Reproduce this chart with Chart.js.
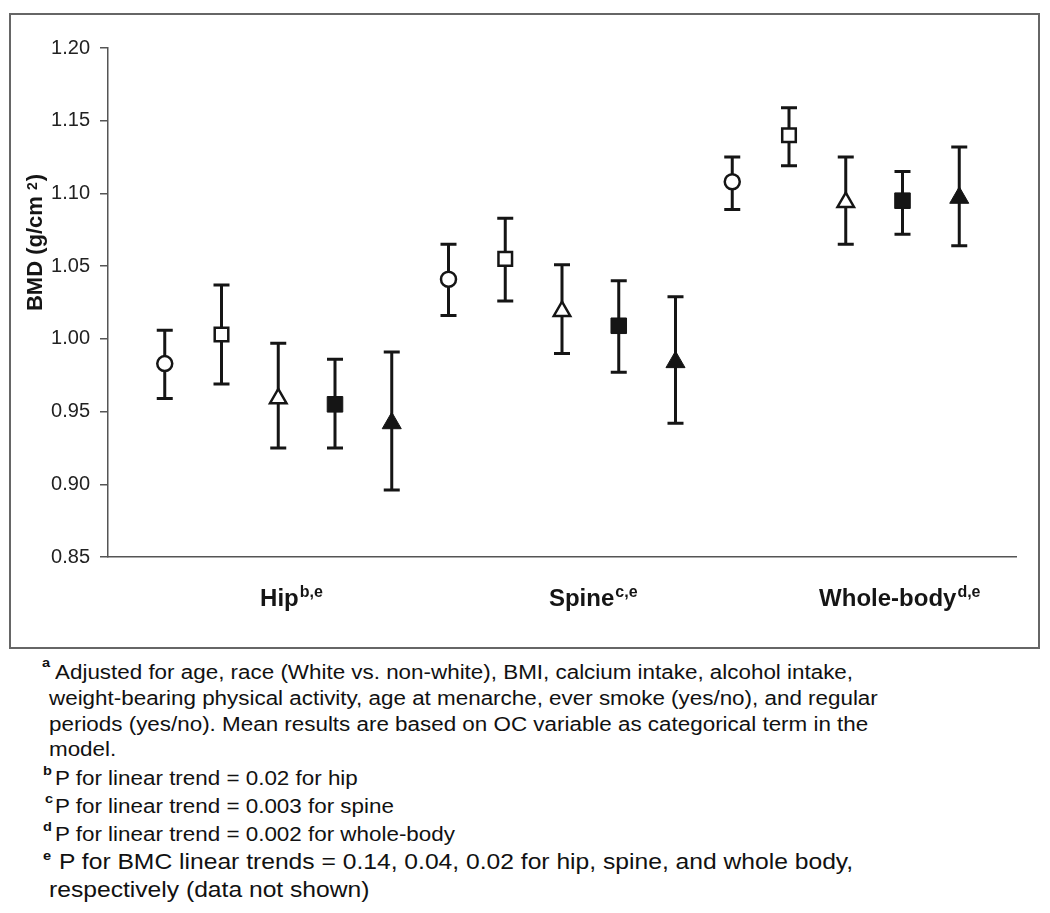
<!DOCTYPE html>
<html>
<head>
<meta charset="utf-8">
<script src="https://cdn.jsdelivr.net/npm/chart.js@4.4.1/dist/chart.umd.min.js"></script>
<style>
html, body { margin: 0; padding: 0; background: #fff; }
#page { position: relative; width: 1050px; height: 913px; overflow: hidden; font-family: "Liberation Sans", Arial, sans-serif; color: #111; }
#frame { position: absolute; left: 9px; top: 13px; width: 1031px; height: 636px; border: 2px solid #666; box-sizing: border-box; }
#wrap { position: absolute; left: 0; top: 0; width: 1050px; height: 650px; }
.fn { position: absolute; white-space: nowrap; line-height: 1; font-size: 20px; transform: scaleX(1.12); transform-origin: 0 0; }
.fn.big { font-size: 22px; }
.sup { position: absolute; white-space: nowrap; line-height: 1; font-size: 13px; font-weight: bold; transform: scaleX(1.12); transform-origin: 0 0; }
</style>
</head>
<body>
<div id="page">
  <div id="frame"></div>
  <div id="wrap"><canvas id="c" width="1050" height="650"></canvas></div>

  <div class="sup" style="left:42px;top:656px;">a</div>
  <div class="fn" style="left:55px;top:662px;">Adjusted for age, race (White vs. non-white), BMI, calcium intake, alcohol intake,</div>
  <div class="fn" style="left:49px;top:688px;">weight-bearing physical activity, age at menarche, ever smoke (yes/no), and regular</div>
  <div class="fn" style="left:49px;top:714px;">periods (yes/no). Mean results are based on OC variable as categorical term in the</div>
  <div class="fn" style="left:49px;top:739px;">model.</div>

  <div class="sup" style="left:43px;top:764px;">b</div>
  <div class="fn" style="left:55px;top:768px;">P for linear trend = 0.02 for hip</div>
  <div class="sup" style="left:45px;top:792px;">c</div>
  <div class="fn" style="left:55px;top:796px;">P for linear trend = 0.003 for spine</div>
  <div class="sup" style="left:43px;top:820px;">d</div>
  <div class="fn" style="left:55px;top:824px;">P for linear trend = 0.002 for whole-body</div>
  <div class="sup" style="left:43px;top:849px;">e</div>
  <div class="fn big" style="left:59px;top:851px;">P for BMC linear trends = 0.14, 0.04, 0.02 for hip, spine, and whole body,</div>
  <div class="fn big" style="left:49px;top:879px;">respectively (data not shown)</div>
</div>

<script>
// ---- Data ----
const categories = ['Hip', 'Spine', 'Whole-body'];
const categoryNotes = ['b,e', 'c,e', 'd,e'];
const yTickValues = [0.85, 0.90, 0.95, 1.00, 1.05, 1.10, 1.15, 1.20];
const seriesNames = ['OC group 1', 'OC group 2', 'OC group 3', 'OC group 4', 'OC group 5'];

const openCircleMean  = [0.983, 1.041, 1.108];
const openCircleLower = [0.959, 1.016, 1.089];
const openCircleUpper = [1.006, 1.065, 1.125];

const openSquareMean  = [1.003, 1.055, 1.140];
const openSquareLower = [0.969, 1.026, 1.119];
const openSquareUpper = [1.037, 1.083, 1.159];

const openTriangleMean  = [0.959, 1.019, 1.094];
const openTriangleLower = [0.925, 0.990, 1.065];
const openTriangleUpper = [0.997, 1.051, 1.125];

const filledSquareMean  = [0.955, 1.009, 1.095];
const filledSquareLower = [0.925, 0.977, 1.072];
const filledSquareUpper = [0.986, 1.040, 1.115];

const filledTriangleMean  = [0.942, 0.984, 1.097];
const filledTriangleLower = [0.896, 0.942, 1.064];
const filledTriangleUpper = [0.991, 1.029, 1.132];

// ---- Build ----
const FONT = '"Liberation Sans", Arial, sans-serif';
Chart.defaults.font.family = FONT;
const INK = '#151515';
const nSeries = 5;

function pts(seriesIndex, mean, lo, hi) {
  return mean.map((m, c) => ({ x: c * nSeries + seriesIndex + 1, y: m, lo: lo[c], hi: hi[c] }));
}

const seriesDefs = [
  { mean: openCircleMean, lo: openCircleLower, hi: openCircleUpper, style: 'circle', r: 7.5, fill: '#fff', bw: 2.5 },
  { mean: openSquareMean, lo: openSquareLower, hi: openSquareUpper, style: 'rect', r: 9.6, fill: '#fff', bw: 2.5 },
  { mean: openTriangleMean, lo: openTriangleLower, hi: openTriangleUpper, style: 'triangle', r: 9.5, fill: '#fff', bw: 2.5 },
  { mean: filledSquareMean, lo: filledSquareLower, hi: filledSquareUpper, style: 'rect', r: 11, fill: INK, bw: 1 },
  { mean: filledTriangleMean, lo: filledTriangleLower, hi: filledTriangleUpper, style: 'triangle', r: 11, fill: INK, bw: 1 }
];

const datasets = seriesDefs.map((d, s) => ({
  label: seriesNames[s],
  data: pts(s, d.mean, d.lo, d.hi),
  showLine: false,
  pointStyle: d.style,
  pointRadius: d.r,
  pointHoverRadius: d.r,
  pointBackgroundColor: d.fill,
  pointBorderColor: INK,
  pointBorderWidth: d.bw,
  pointHoverBorderWidth: d.bw,
  clip: false
}));

const errorBars = {
  id: 'errorBars',
  beforeDatasetsDraw(chart, args, opts) {
    const { ctx } = chart;
    const y = chart.scales.y;
    ctx.save();
    ctx.strokeStyle = INK;
    ctx.lineWidth = opts.lineWidth;
    ctx.lineCap = 'butt';
    chart.data.datasets.forEach((ds, di) => {
      const meta = chart.getDatasetMeta(di);
      meta.data.forEach((pt, i) => {
        const raw = ds.data[i];
        const yl = y.getPixelForValue(raw.lo);
        const yh = y.getPixelForValue(raw.hi);
        const hw = opts.capHalfWidth;
        ctx.beginPath();
        ctx.moveTo(pt.x, yl); ctx.lineTo(pt.x, yh);
        ctx.moveTo(pt.x - hw, yl); ctx.lineTo(pt.x + hw, yl);
        ctx.moveTo(pt.x - hw, yh); ctx.lineTo(pt.x + hw, yh);
        ctx.stroke();
      });
    });
    ctx.restore();
  }
};

const textPlugin = {
  id: 'textPlugin',
  afterDraw(chart, args, opts) {
    const { ctx, chartArea } = chart;
    const x = chart.scales.x;
    ctx.save();
    ctx.fillStyle = INK;
    ctx.textAlign = 'left';
    ctx.textBaseline = 'alphabetic';
    // category labels with superscripts
    const base = chartArea.bottom + opts.catBaselineOffset;
    categories.forEach((c, i) => {
      const px = x.getPixelForValue(opts.catStarts[i]);
      ctx.font = 'bold 24px ' + FONT;
      ctx.fillText(c, px, base);
      const w = ctx.measureText(c).width;
      ctx.font = 'bold 16px ' + FONT;
      ctx.fillText(categoryNotes[i], px + w + 1, base - 9);
    });
    // y-axis title with superscript
    ctx.translate(opts.titleX, opts.titleY);
    ctx.rotate(-Math.PI / 2);
    const mainFont = 'bold 22px ' + FONT;
    const supFont = 'bold 14px ' + FONT;
    const p1 = 'BMD (g/cm ', p2 = '2', p3 = ')';
    ctx.font = mainFont; const w1 = ctx.measureText(p1).width; const w3 = ctx.measureText(p3).width;
    ctx.font = supFont; const w2 = ctx.measureText(p2).width;
    let sx = -(w1 + w2 + w3) / 2;
    ctx.font = mainFont; ctx.fillText(p1, sx, 0);
    ctx.font = supFont; ctx.fillText(p2, sx + w1, -5);
    ctx.font = mainFont; ctx.fillText(p3, sx + w1 + w2 + 1, 0);
    ctx.restore();
  }
};

new Chart(document.getElementById('c'), {
  type: 'scatter',
  data: { datasets },
  plugins: [errorBars, textPlugin],
  options: {
    responsive: false,
    animation: false,
    events: [],
    layout: { padding: { left: 0, top: 48, right: 34, bottom: 0 } },
    plugins: {
      legend: { display: false },
      tooltip: { enabled: false },
      errorBars: { lineWidth: 3, capHalfWidth: 8 },
      textPlugin: { catStarts: [2.68, 7.77, 12.53], catBaselineOffset: 49, titleX: 42, titleY: 243 }
    },
    scales: {
      x: {
        type: 'linear', min: 0, max: 16,
        ticks: { display: false },
        grid: { display: false },
        border: { display: true, color: '#555', width: 1.5 },
        afterFit(s) { s.height = 93; }
      },
      y: {
        type: 'linear', min: 0.85, max: 1.20,
        afterBuildTicks(axis) { axis.ticks = yTickValues.map(v => ({ value: v })); },
        ticks: {
          callback: v => Number(v).toFixed(2),
          color: '#222', font: { size: 20 }, padding: 10
        },
        grid: { drawOnChartArea: false, drawTicks: true, tickLength: 8, color: '#555', lineWidth: 1.5 },
        border: { display: true, color: '#555', width: 1.5 },
        afterFit(s) { s.width = 108; }
      }
    }
  }
});
</script>
</body>
</html>
